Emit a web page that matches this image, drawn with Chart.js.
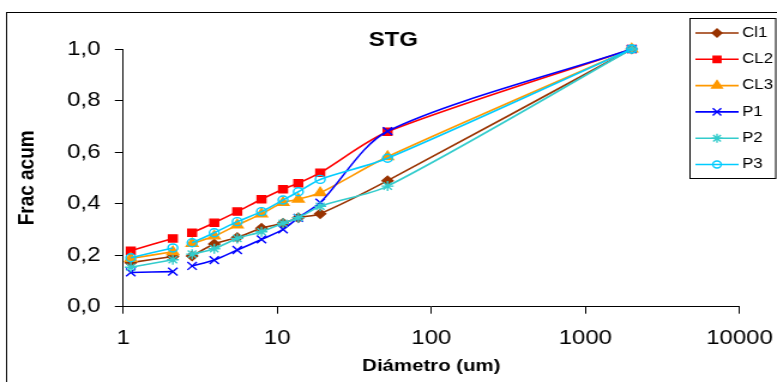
<!DOCTYPE html>
<html>
<head>
<meta charset="utf-8">
<script src="https://cdn.jsdelivr.net/npm/chart.js@4.4.1/dist/chart.umd.min.js"></script>
<style>
  html, body { margin: 0; padding: 0; background: #fff; overflow: hidden; }
  /* el grafico original esta estirado en horizontal */
  #wrap { width: 648px; height: 382px; transform: scaleX(1.199); transform-origin: 0 0; }
</style>
</head>
<body>
<div id="wrap"><canvas id="grafico" width="648" height="382"></canvas></div>
<script>
// Diametros (um); null = fila vacia en la planilla (corta las lineas)
const diametro = [1.12, 2.1, null, 2.8, 3.9, 5.5, 7.9, 10.9, 13.7, 19, 52, 2000];

// Fraccion acumulada por muestra
const cl1 = [0.171, 0.195, null, 0.197, 0.243, 0.269, 0.304, 0.324, 0.345, 0.361, 0.489, 1.0];
const cl2 = [0.217, 0.265, null, 0.287, 0.326, 0.369, 0.417, 0.456, 0.479, 0.520, 0.679, 1.0];
const cl3 = [0.187, 0.213, null, 0.245, 0.274, 0.317, 0.360, 0.404, 0.417, 0.442, 0.582, 1.0];
const p1  = [0.133, 0.136, null, 0.158, 0.181, 0.220, 0.261, 0.300, 0.345, 0.404, 0.681, 1.0];
const p2  = [0.153, 0.182, null, 0.204, 0.225, 0.265, 0.291, 0.324, 0.345, 0.390, 0.468, 1.0];
const p3  = [0.190, 0.228, null, 0.248, 0.287, 0.330, 0.369, 0.414, 0.446, 0.494, 0.576, 1.0];

const nombres = ["Cl1", "CL2", "CL3", "P1", "P2", "P3"];

// Marcas de los ejes
const xTicks = [1, 10, 100, 1000, 10000];
const yTicks = [0, 0.2, 0.4, 0.6, 0.8, 1.0];

const fuente = '"Liberation Sans", Arial, sans-serif';
Chart.defaults.font.family = fuente;
Chart.defaults.color = "#000";

function puntos(vals) {
  return diametro.map((d, i) => ({ x: d, y: vals[i] }));
}

function serie(i, vals, color, estilo, radio, relleno, orden) {
  return {
    label: nombres[i],
    data: puntos(vals),
    showLine: true,
    borderColor: color,
    borderWidth: 1.6,
    tension: 0.28,
    pointStyle: estilo,
    pointRadius: radio,
    pointHoverRadius: radio,
    pointBackgroundColor: relleno,
    pointBorderColor: color,
    pointBorderWidth: 1.4,
    clip: false,
    order: orden,
  };
}

// Marco exterior del grafico
const marco = {
  id: "marco",
  beforeDraw(chart) {
    const ctx = chart.ctx;
    ctx.save();
    ctx.strokeStyle = "#000";
    ctx.lineWidth = 1;
    ctx.strokeRect(5.5, 12.5, 700, 500);
    ctx.restore();
  },
};

// Titulo dentro del area del grafico
const titulo = {
  id: "titulo",
  afterDraw(chart) {
    const ctx = chart.ctx;
    ctx.save();
    ctx.font = "bold 20px " + fuente;
    ctx.fillStyle = "#000";
    ctx.textAlign = "center";
    ctx.textBaseline = "middle";
    ctx.fillText("STG", 328, 40);
    ctx.restore();
  },
};

// Leyenda con linea + marcador, como en Excel
const leyenda = {
  id: "leyenda",
  afterDraw(chart) {
    const ctx = chart.ctx;
    ctx.save();
    ctx.fillStyle = "#fff";
    ctx.fillRect(575.5, 18.5, 71.5, 160);
    ctx.strokeStyle = "#000";
    ctx.lineWidth = 1;
    ctx.strokeRect(575.5, 18.5, 71.5, 160);
    ctx.font = "14px " + fuente;
    ctx.textBaseline = "middle";
    ctx.textAlign = "left";
    chart.data.datasets.forEach((ds, i) => {
      const y = 33 + i * 26.3;
      ctx.strokeStyle = ds.borderColor;
      ctx.lineWidth = ds.borderWidth;
      ctx.beginPath();
      ctx.moveTo(580, y);
      ctx.lineTo(616, y);
      ctx.stroke();
      ctx.fillStyle = ds.pointBackgroundColor;
      ctx.strokeStyle = ds.pointBorderColor;
      ctx.lineWidth = ds.pointBorderWidth;
      Chart.helpers.drawPoint(ctx, {
        pointStyle: ds.pointStyle,
        radius: ds.pointRadius - 0.5,
        rotation: 0,
        borderWidth: ds.pointBorderWidth,
      }, 598, y);
      ctx.fillStyle = "#000";
      ctx.fillText(ds.label, 619, y);
    });
    ctx.restore();
  },
};

new Chart(document.getElementById("grafico"), {
  type: "scatter",
  data: {
    datasets: [
      serie(0, cl1, "#993300", "rectRot", 4.5, "#993300", 6),
      serie(1, cl2, "#ff0000", "rect", 5, "#ff0000", 5),
      serie(2, cl3, "#ff9900", "triangle", 5.5, "#ff9900", 4),
      serie(3, p1, "#0000ff", "crossRot", 5.5, "#0000ff", 3),
      serie(4, p2, "#33cccc", "star", 5, "#33cccc", 2),
      serie(5, p3, "#00ccff", "circle", 4, "rgba(0,0,0,0)", 1),
    ],
  },
  options: {
    responsive: false,
    animation: false,
    devicePixelRatio: 1,
    layout: { padding: { left: 0, top: 49, right: 31.3, bottom: 0 } },
    plugins: {
      legend: { display: false },
      tooltip: { enabled: false },
    },
    scales: {
      x: {
        type: "logarithmic",
        min: 1,
        max: 10000,
        afterBuildTicks: (s) => { s.ticks = xTicks.map((v) => ({ value: v })); },
        afterFit: (s) => {
          s.height = 75.3;
          // el area del grafico la fija el padding del layout
          s.paddingLeft = 0;
          s.paddingRight = 0;
        },
        ticks: {
          autoSkip: false,
          maxRotation: 0,
          padding: 13,
          font: { size: 20 },
          callback: (v) => String(v),
        },
        grid: { drawOnChartArea: false, drawTicks: true, tickLength: 7, color: "#000" },
        border: { color: "#000", width: 1 },
        title: {
          display: true,
          text: "Diámetro (um)",
          font: { size: 17, weight: "bold" },
          padding: { top: 0, bottom: 5 },
        },
      },
      y: {
        min: 0,
        max: 1,
        afterBuildTicks: (s) => { s.ticks = yTicks.map((v) => ({ value: v })); },
        afterFit: (s) => { s.width = 102.75; },
        ticks: {
          padding: 12,
          font: { size: 20 },
          callback: (v) => v.toFixed(1).replace(".", ","),
        },
        grid: { drawOnChartArea: false, drawTicks: true, tickLength: 7, color: "#000" },
        border: { color: "#000", width: 1 },
        title: {
          display: true,
          text: "Frac acum",
          font: { size: 19, weight: "bold" },
          padding: { top: 11, bottom: 0 },
        },
      },
    },
  },
  plugins: [marco, titulo, leyenda],
});
</script>
</body>
</html>
